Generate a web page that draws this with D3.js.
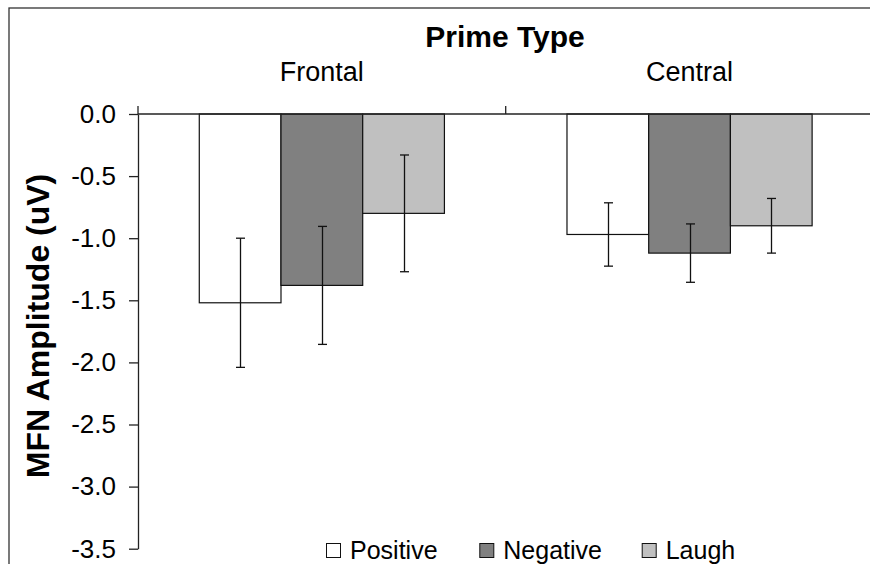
<!DOCTYPE html>
<html>
<head>
<meta charset="utf-8">
<script src="https://cdn.jsdelivr.net/npm/d3@7"></script>
<style>
  html, body { margin: 0; padding: 0; background: #fff; }
  svg { display: block; }
  text { font-family: "Liberation Sans", Arial, sans-serif; fill: #000; }
</style>
</head>
<body>
<script>
// Mean MFN amplitude per electrode site and prime type, with error bars
const categories = ["Frontal", "Central"];
const seriesNames = ["Positive", "Negative", "Laugh"];
const positive = [-1.52, -0.97];
const negative = [-1.38, -1.12];
const laugh = [-0.80, -0.90];
const positiveErr = [0.52, 0.255];
const negativeErr = [0.475, 0.235];
const laughErr = [0.47, 0.22];
const yTickValues = [0, -0.5, -1.0, -1.5, -2.0, -2.5, -3.0, -3.5];
const fills = ["#ffffff", "#808080", "#c0c0c0"];

const W = 870, H = 564;
const svg = d3.select("body").append("svg").attr("width", W).attr("height", H);

// Outer chart frame
svg.append("rect")
  .attr("x", 9).attr("y", 8).attr("width", 900).attr("height", 600)
  .attr("fill", "none").attr("stroke", "#333").attr("stroke-width", 1.3);

const plotLeft = 138, plotRight = 873.4;
const y = d3.scaleLinear().domain([0, -3.5]).range([114, 548.7]);
const x0 = d3.scaleBand().domain(categories).range([plotLeft, plotRight]).paddingInner(0).paddingOuter(0);
const x1 = d3.scaleBand().domain(seriesNames).range([0, x0.bandwidth()]).paddingInner(0).paddingOuter(0.75);

const values = [positive, negative, laugh];
const errors = [positiveErr, negativeErr, laughErr];
const rows = [];
categories.forEach((c, ci) => {
  seriesNames.forEach((s, si) => {
    rows.push({ cat: c, series: s, value: values[si][ci], err: errors[si][ci], fill: fills[si] });
  });
});

// Bars hang down from zero
svg.append("g").selectAll("rect").data(rows).join("rect")
  .attr("x", d => x0(d.cat) + x1(d.series))
  .attr("y", y(0))
  .attr("width", x1.bandwidth())
  .attr("height", d => y(d.value) - y(0))
  .attr("fill", d => d.fill)
  .attr("stroke", "#111")
  .attr("stroke-width", 1.2);

// Error bars
const eb = svg.append("g").attr("stroke", "#111").attr("stroke-width", 1.3);
rows.forEach(d => {
  const cx = Math.round(x0(d.cat) + x1(d.series) + x1.bandwidth() / 2) + 0.5;
  const top = y(d.value + d.err), bot = y(d.value - d.err);
  eb.append("line").attr("x1", cx).attr("x2", cx).attr("y1", top).attr("y2", bot);
  eb.append("line").attr("x1", cx - 4.5).attr("x2", cx + 4.5).attr("y1", top).attr("y2", top);
  eb.append("line").attr("x1", cx - 4.5).attr("x2", cx + 4.5).attr("y1", bot).attr("y2", bot);
});

// Value axis on the left
const yAxis = d3.axisLeft(y).tickValues(yTickValues).tickFormat(d3.format(".1f"))
  .tickSize(9).tickSizeOuter(0).tickPadding(13);
const gy = svg.append("g").attr("transform", `translate(${plotLeft},0)`).call(yAxis);
gy.selectAll("path, line").attr("stroke", "#222").attr("stroke-width", 1.3);
gy.selectAll("text").attr("font-size", 26).attr("font-family", "'Liberation Sans', Arial, sans-serif")
  .attr("fill", "#000").text(d => d === 0 ? "0.0" : d3.format(".1f")(d).replace("−", "-"));

// Category axis along zero, with ticks pointing up between groups
const gx = svg.append("g");
gx.append("line").attr("x1", plotLeft).attr("x2", plotRight).attr("y1", y(0)).attr("y2", y(0))
  .attr("stroke", "#222").attr("stroke-width", 1.3);
const boundaries = [plotLeft, x0(categories[1]), plotRight];
gx.selectAll("line.tick").data(boundaries).join("line").attr("class", "tick")
  .attr("x1", d => d).attr("x2", d => d).attr("y1", y(0)).attr("y2", y(0) - 8)
  .attr("stroke", "#222").attr("stroke-width", 1.3);
gx.selectAll("text").data(categories).join("text")
  .attr("x", d => x0(d) + x0.bandwidth() / 2)
  .attr("y", 81)
  .attr("text-anchor", "middle")
  .attr("font-size", 27)
  .text(d => d);

// Axis title above the groups
svg.append("text").attr("x", 505).attr("y", 47).attr("text-anchor", "middle")
  .attr("font-size", 30).attr("font-weight", "bold").text("Prime Type");

// Value axis title
svg.append("text")
  .attr("transform", "translate(48.5,326) rotate(-90)")
  .attr("text-anchor", "middle")
  .attr("font-size", 32).attr("font-weight", "bold")
  .text("MFN Amplitude (uV)");

// Legend
const legendX = [326, 479.3, 641.7];
const lg = svg.append("g").selectAll("g").data(seriesNames).join("g")
  .attr("transform", (d, i) => `translate(${legendX[i]},543)`);
lg.append("rect").attr("x", 0.5).attr("y", 0.5).attr("width", 14).attr("height", 14)
  .attr("fill", (d, i) => fills[i]).attr("stroke", "#111").attr("stroke-width", 1);
lg.append("text").attr("x", 24).attr("y", 16).attr("font-size", 25).text(d => d);
</script>
</body>
</html>
